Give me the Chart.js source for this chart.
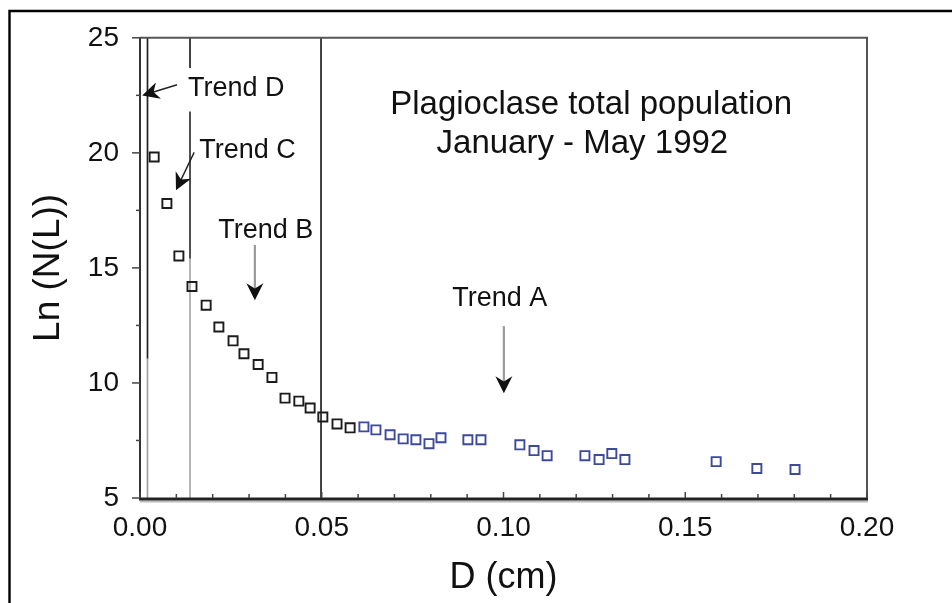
<!DOCTYPE html>
<html>
<head>
<meta charset="utf-8">
<script src="https://cdn.jsdelivr.net/npm/chart.js@4"></script>
<style>
  html, body { margin: 0; padding: 0; background: #fff; }
  #wrap { width: 952px; height: 603px; position: relative; }
</style>
</head>
<body>
<div id="wrap"><canvas id="csdChart"></canvas></div>
<script>
// crystal size D (cm) and Ln(N(L)), small crystals (black) and large crystals (blue)
const sizeSmall = [0.0039, 0.0074, 0.0107, 0.0143, 0.0182, 0.0217, 0.0256, 0.0286,
                   0.0325, 0.0363, 0.0399, 0.0437, 0.0468, 0.0503, 0.0542, 0.0578];
const lnSmall   = [19.82, 17.80, 15.52, 14.19, 13.38, 12.43, 11.83, 11.27,
                   10.80, 10.24, 9.34, 9.21, 8.91, 8.52, 8.22, 8.05];
const sizeLarge = [0.0616, 0.0649, 0.0688, 0.0724, 0.0759, 0.0795, 0.0828, 0.0902,
                   0.0938, 0.1045, 0.1084, 0.1120, 0.1224, 0.1263, 0.1298, 0.1334,
                   0.1585, 0.1697, 0.1802];
const lnLarge   = [8.09, 7.96, 7.75, 7.57, 7.53, 7.36, 7.62, 7.53,
                   7.53, 7.31, 7.06, 6.84, 6.84, 6.67, 6.93, 6.67,
                   6.58, 6.28, 6.24];

// trend boundaries (cm)
const trendBounds = [0.00206, 0.01376, 0.0498];

const titleLines = ["Plagioclase total population", "January - May 1992"];
const trendNames = ["Trend D", "Trend C", "Trend B", "Trend A"];

const FONT = "'Liberation Sans', Arial, sans-serif";
Chart.defaults.font.family = FONT;

// segments of each boundary line: [from, to, colour] in Ln units
const boundParts = [
  [[25, 11.05, "#222"], [11.05, 5, "#a0a0a0"]],
  [[25, 23.69, "#222"], [21.8, 15.4, "#333"], [15.4, 5, "#a8a8a8"]],
  [[25, 5, "#222"]]
];

// label anchors (left, baseline) and arrows (tail -> tip), in data units
const trendLabelAt = [[0.0132, 22.46], [0.0163, 19.77], [0.0215, 16.30], [0.0859, 13.33]];
const trendArrows = [
  { from: [0.0102, 22.96], to: [0.0006, 22.49], shaft: "#222", w: 1.4 },
  { from: [0.0149, 20.02], to: [0.0099, 18.37], shaft: "#222", w: 1.4 },
  { from: [0.0316, 16.0],  to: [0.0316, 13.59], shaft: "#9a9a9a", w: 2.2 },
  { from: [0.1001, 12.47], to: [0.1001, 9.55],  shaft: "#9a9a9a", w: 2.2 }
];
const titleAt = [[0.1241, 21.67], [0.1217, 19.99]];

function drawArrow(ctx, x0, y0, x1, y1, shaft, w) {
  const ang = Math.atan2(y1 - y0, x1 - x0);
  const c = Math.cos(ang), s = Math.sin(ang);
  const hl = 17, hw = 8.5;
  const bx = x1 - hl * c, by = y1 - hl * s;
  ctx.strokeStyle = shaft;
  ctx.lineWidth = w;
  ctx.beginPath();
  ctx.moveTo(x0, y0);
  ctx.lineTo(x1 - hl * 0.6 * c, y1 - hl * 0.6 * s);
  ctx.stroke();
  ctx.fillStyle = "#111";
  ctx.beginPath();
  ctx.moveTo(x1, y1);
  ctx.lineTo(bx + hw * s, by - hw * c);
  ctx.lineTo(x1 - hl * 0.7 * c, y1 - hl * 0.7 * s);
  ctx.lineTo(bx - hw * s, by + hw * c);
  ctx.closePath();
  ctx.fill();
}

const decor = {
  id: "decor",
  beforeDraw(chart) {
    const ctx = chart.ctx;
    ctx.save();
    ctx.strokeStyle = "#000";
    ctx.lineWidth = 2.4;
    ctx.beginPath();
    ctx.moveTo(9.5, 700);
    ctx.lineTo(9.5, 11);
    ctx.lineTo(1000, 11);
    ctx.stroke();
    ctx.restore();
  },
  beforeDatasetsDraw(chart) {
    const { ctx, chartArea: a, scales: { x, y } } = chart;
    ctx.save();
    ctx.lineCap = "butt";

    // trend boundary lines
    trendBounds.forEach((d, i) => {
      const px = x.getPixelForValue(d);
      boundParts[i].forEach(([v0, v1, col]) => {
        ctx.strokeStyle = col;
        ctx.lineWidth = 1.7;
        ctx.beginPath();
        ctx.moveTo(px, y.getPixelForValue(v0));
        ctx.lineTo(px, y.getPixelForValue(v1));
        ctx.stroke();
      });
    });

    // plot frame
    ctx.strokeStyle = "#555";
    ctx.lineWidth = 2;
    ctx.beginPath();
    ctx.moveTo(a.left, a.top);
    ctx.lineTo(a.right, a.top);
    ctx.lineTo(a.right, a.bottom);
    ctx.stroke();
    ctx.strokeStyle = "#333";
    ctx.beginPath();
    ctx.moveTo(a.left, a.top);
    ctx.lineTo(a.left, a.bottom);
    ctx.stroke();
    ctx.strokeStyle = "#bbb";
    ctx.lineWidth = 2;
    ctx.beginPath();
    ctx.moveTo(a.left, a.bottom + 3.5);
    ctx.lineTo(a.right + 1, a.bottom + 3.5);
    ctx.stroke();
    ctx.strokeStyle = "#222";
    ctx.lineWidth = 3;
    ctx.beginPath();
    ctx.moveTo(a.left - 1, a.bottom + 1);
    ctx.lineTo(a.right + 1, a.bottom + 1);
    ctx.stroke();

    // tick marks
    ctx.strokeStyle = "#444";
    ctx.lineWidth = 1.5;
    y.ticks.forEach(t => {
      const py = y.getPixelForValue(t.value);
      const len = t.value % 5 === 0 ? 8 : 4;
      ctx.beginPath();
      ctx.moveTo(a.left - len, py);
      ctx.lineTo(a.left, py);
      ctx.stroke();
    });
    x.ticks.forEach(t => {
      const px = x.getPixelForValue(t.value);
      const len = Math.round(t.value * 100) % 5 === 0 ? 6 : 4;
      ctx.beginPath();
      ctx.moveTo(px, a.bottom);
      ctx.lineTo(px, a.bottom - len);
      ctx.stroke();
    });

    // arrows and trend names
    trendArrows.forEach(ar => {
      drawArrow(ctx,
        x.getPixelForValue(ar.from[0]), y.getPixelForValue(ar.from[1]),
        x.getPixelForValue(ar.to[0]), y.getPixelForValue(ar.to[1]),
        ar.shaft, ar.w);
    });
    ctx.fillStyle = "#111";
    ctx.font = "27px " + FONT;
    ctx.textAlign = "left";
    ctx.textBaseline = "alphabetic";
    trendNames.forEach((name, i) => {
      ctx.fillText(name, x.getPixelForValue(trendLabelAt[i][0]), y.getPixelForValue(trendLabelAt[i][1]));
    });

    // heading inside the plot
    ctx.font = "33px " + FONT;
    ctx.textAlign = "center";
    titleLines.forEach((line, i) => {
      ctx.fillText(line, x.getPixelForValue(titleAt[i][0]), y.getPixelForValue(titleAt[i][1]));
    });
    ctx.restore();
  }
};

const pts = (xs, ys) => xs.map((d, i) => ({ x: d, y: ys[i] }));

new Chart(document.getElementById("csdChart"), {
  type: "scatter",
  data: {
    datasets: [{
      data: pts(sizeSmall, lnSmall),
      pointStyle: "rect",
      pointRadius: 6.4,
      pointBorderWidth: 1.9,
      pointBorderColor: "#1c1c1c",
      pointBackgroundColor: "rgba(255,255,255,0)"
    }, {
      data: pts(sizeLarge, lnLarge),
      pointStyle: "rect",
      pointRadius: 6.4,
      pointBorderWidth: 1.9,
      pointBorderColor: "#3d4a9c",
      pointBackgroundColor: "rgba(255,255,255,0)"
    }]
  },
  options: {
    responsive: true,
    maintainAspectRatio: false,
    animation: false,
    layout: { padding: { top: 33, right: 85, bottom: 0, left: 0 } },
    plugins: { legend: { display: false }, tooltip: { enabled: false } },
    scales: {
      x: {
        type: "linear",
        min: 0,
        max: 0.2,
        afterFit: s => { s.height = 105; },
        grid: { display: false, drawTicks: false },
        border: { display: false },
        ticks: {
          stepSize: 0.01,
          autoSkip: false,
          maxRotation: 0,
          padding: 13,
          color: "#111",
          font: { size: 28 },
          callback: v => Math.round(v * 100) % 5 === 0 ? v.toFixed(2) : ""
        },
        title: {
          display: true,
          text: "D (cm)",
          color: "#111",
          font: { size: 36 },
          padding: { top: 0, bottom: 3 }
        }
      },
      y: {
        min: 5,
        max: 25,
        afterFit: s => { s.width = 140; },
        grid: { display: false, drawTicks: false },
        border: { display: false },
        ticks: {
          stepSize: 2.5,
          autoSkip: false,
          padding: 21,
          color: "#111",
          font: { size: 28 },
          callback: v => v % 5 === 0 ? String(v) : ""
        },
        title: {
          display: true,
          text: "Ln (N(L))",
          color: "#111",
          font: { size: 37 },
          padding: { top: 27, bottom: 0 }
        }
      }
    }
  },
  plugins: [decor]
});
</script>
</body>
</html>
